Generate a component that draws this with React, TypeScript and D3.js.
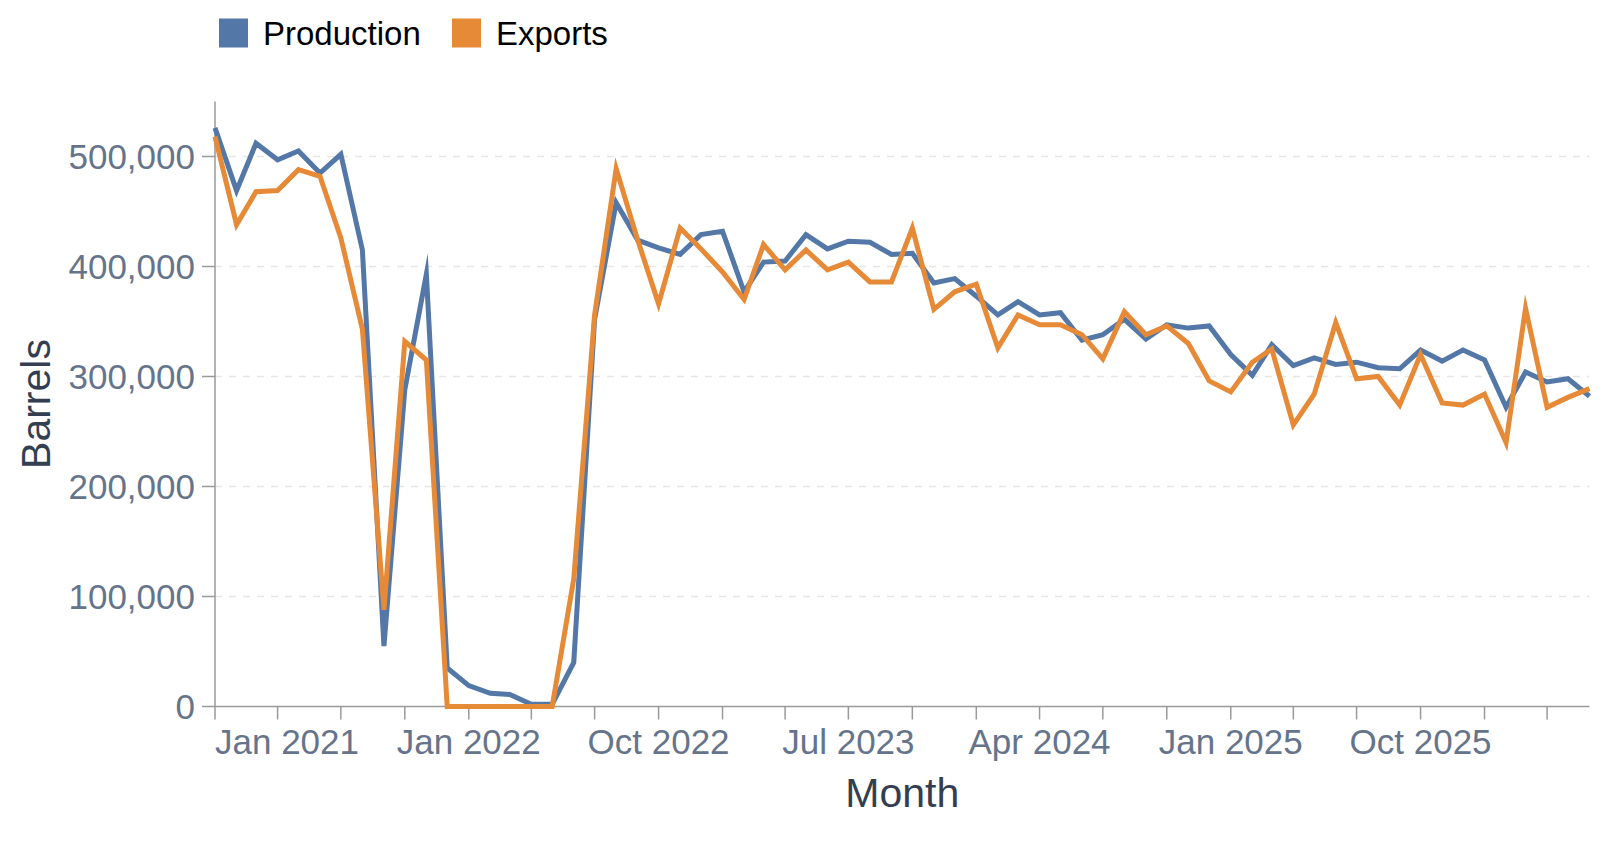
import React, { useEffect, useRef } from "react";
import * as d3 from "d3";

const months = [
  "2021-01","2021-02","2021-03","2021-04","2021-05","2021-06","2021-07","2021-08","2021-09","2021-10","2021-11","2021-12",
  "2022-01","2022-02","2022-03","2022-04","2022-05","2022-06","2022-07","2022-08","2022-09","2022-10","2022-11","2022-12",
  "2023-01","2023-02","2023-03","2023-04","2023-05","2023-06","2023-07","2023-08","2023-09","2023-10","2023-11","2023-12",
  "2024-01","2024-02","2024-03","2024-04","2024-05","2024-06","2024-07","2024-08","2024-09","2024-10","2024-11","2024-12",
  "2025-01","2025-02","2025-03","2025-04","2025-05","2025-06","2025-07","2025-08","2025-09","2025-10","2025-11","2025-12",
  "2026-01","2026-02","2026-03","2026-04","2026-05","2026-06",
];

const production = [
  526000, 469000, 512000, 497000, 505000, 485000, 502000, 415000, 55000, 288000, 393000,
  35000, 19000, 12000, 11000, 2000, 2000, 40000, 352000, 458000, 424000,
  417000, 411000, 429000, 432000, 377000, 404000, 405000, 429000, 416000, 423000,
  422000, 411000, 412000, 385000, 389000, 373000, 356000, 368000, 356000, 358000,
  333000, 338000, 352000, 334000, 347000, 344000, 346000, 320000, 301000, 329000,
  310000, 317000, 311000, 313000, 308000, 307000, 324000, 314000, 324000, 315000,
  272000, 304000, 295000, 298000, 282000,
];

const exportsData = [
  518000, 438000, 468000, 469000, 488000, 482000, 426000, 343000, 88000, 332000, 315000,
  0, 0, 0, 0, 0, 0, 116000, 356000, 489000, 424000,
  366000, 435000, 416000, 395000, 370000, 420000, 397000, 415000, 397000, 404000,
  386000, 386000, 435000, 361000, 377000, 384000, 326000, 356000, 347000, 347000,
  338000, 316000, 359000, 338000, 346000, 330000, 296000, 286000, 313000, 325000,
  256000, 284000, 349000, 298000, 300000, 274000, 320000, 276000, 274000, 284000,
  240000, 362000, 272000, 281000, 289000,
];

const seriesNames = ["Production", "Exports"];
const seriesColors = ["#5377a6", "#e68a37"];
const yTickValues = [0, 100000, 200000, 300000, 400000, 500000];
const yDomain = [0, 550000];
const xTitle = "Month";
const yTitle = "Barrels";

const W = 1610;
const H = 842;
const FONT = "'Liberation Sans', Arial, Helvetica, sans-serif";

export default function App() {
  const ref = useRef<SVGSVGElement | null>(null);

  useEffect(() => {
    document.body.style.margin = "0";
    const svg = d3.select(ref.current);
    svg.selectAll("*").remove();

    const left = 215, right = 1589.5, top = 101.5, bottom = 706.5;
    const parse = d3.timeParse("%Y-%m");
    const dates = months.map((m) => parse(m) as Date);

    const x = d3.scaleTime().domain([dates[0], dates[dates.length - 1]]).range([left, right]);
    const y = d3.scaleLinear().domain(yDomain).range([bottom, top]);

    const labelColor = "#66748b";
    const titleColor = "#333e50";
    const axisColor = "#9a9a9a";

    // grid
    svg.append("g")
      .selectAll("line")
      .data(yTickValues.filter((v) => v > 0))
      .join("line")
      .attr("x1", left).attr("x2", right)
      .attr("y1", (d) => y(d)).attr("y2", (d) => y(d))
      .attr("stroke", "#e6e6e6").attr("stroke-width", 1.5)
      .attr("stroke-dasharray", "7,7");

    // y axis
    const gy = svg.append("g");
    gy.append("line").attr("x1", left).attr("x2", left).attr("y1", top).attr("y2", bottom)
      .attr("stroke", axisColor).attr("stroke-width", 1.5);
    gy.selectAll("line.tick").data(yTickValues).join("line").attr("class", "tick")
      .attr("x1", left - 13).attr("x2", left)
      .attr("y1", (d) => y(d)).attr("y2", (d) => y(d))
      .attr("stroke", axisColor).attr("stroke-width", 1.5);
    const fmt = d3.format(",");
    gy.selectAll("text").data(yTickValues).join("text")
      .attr("x", left - 20).attr("y", (d) => y(d)).attr("dy", "0.36em")
      .attr("text-anchor", "end")
      .attr("font-family", FONT).attr("font-size", 35).attr("fill", labelColor)
      .text((d) => fmt(d));

    // x axis
    const gx = svg.append("g");
    gx.append("line").attr("x1", left).attr("x2", right).attr("y1", bottom).attr("y2", bottom)
      .attr("stroke", axisColor).attr("stroke-width", 1.5);
    const xTicks = x.ticks(d3.timeMonth.every(3) as any);
    gx.selectAll("line.tick").data(xTicks).join("line").attr("class", "tick")
      .attr("x1", (d) => x(d)).attr("x2", (d) => x(d))
      .attr("y1", bottom).attr("y2", bottom + 13)
      .attr("stroke", axisColor).attr("stroke-width", 1.5);

    const tfmt = d3.timeFormat("%b %Y");
    const canvas = document.createElement("canvas");
    const ctx = canvas.getContext("2d");
    const fs = 35;
    if (ctx) ctx.font = `${fs}px ${FONT}`;
    const measure = (s: string) => (ctx ? ctx.measureText(s).width : s.length * fs * 0.52);
    let lastEnd = -Infinity;
    const shown: { d: Date; anchor: string }[] = [];
    xTicks.forEach((d, i) => {
      const s = tfmt(d);
      const w = measure(s);
      const px = x(d);
      let x0: number, anchor: string;
      if (i === 0) { x0 = px; anchor = "start"; }
      else if (i === xTicks.length - 1 && Math.abs(px - right) < 1) { x0 = px - w; anchor = "end"; }
      else { x0 = px - w / 2; anchor = "middle"; }
      if (x0 >= lastEnd) {
        shown.push({ d, anchor });
        lastEnd = x0 + w;
      }
    });
    gx.selectAll("text").data(shown).join("text")
      .attr("x", (s) => x(s.d)).attr("y", 754)
      .attr("text-anchor", (s) => s.anchor)
      .attr("font-family", FONT).attr("font-size", fs).attr("fill", labelColor)
      .text((s) => tfmt(s.d));

    // titles
    svg.append("text")
      .attr("x", (left + right) / 2).attr("y", 807)
      .attr("text-anchor", "middle")
      .attr("font-family", FONT).attr("font-size", 41).attr("fill", titleColor)
      .text(xTitle);
    svg.append("text")
      .attr("transform", `translate(50,${(top + bottom) / 2}) rotate(-90)`)
      .attr("text-anchor", "middle")
      .attr("font-family", FONT).attr("font-size", 41).attr("fill", titleColor)
      .text(yTitle);

    // lines
    const series = [production, exportsData];
    const line = d3.line<number>()
      .x((_, i) => x(dates[i]))
      .y((d) => y(d));
    series.forEach((vals, k) => {
      svg.append("path")
        .attr("d", line(vals) || "")
        .attr("fill", "none")
        .attr("stroke", seriesColors[k])
        .attr("stroke-width", 5)
        .attr("stroke-linejoin", "miter")
        .attr("stroke-miterlimit", 10);
    });

    // legend
    const legendX = [219, 452];
    seriesNames.forEach((name, k) => {
      svg.append("rect")
        .attr("x", legendX[k]).attr("y", 18.5).attr("width", 29).attr("height", 29)
        .attr("fill", seriesColors[k]);
      svg.append("text")
        .attr("x", legendX[k] + 44).attr("y", 44.5)
        .attr("font-family", FONT).attr("font-size", 33).attr("fill", "#000")
        .text(name);
    });
  }, []);

  return <svg ref={ref} width={W} height={H} style={{ display: "block", background: "#fff" }} />;
}
